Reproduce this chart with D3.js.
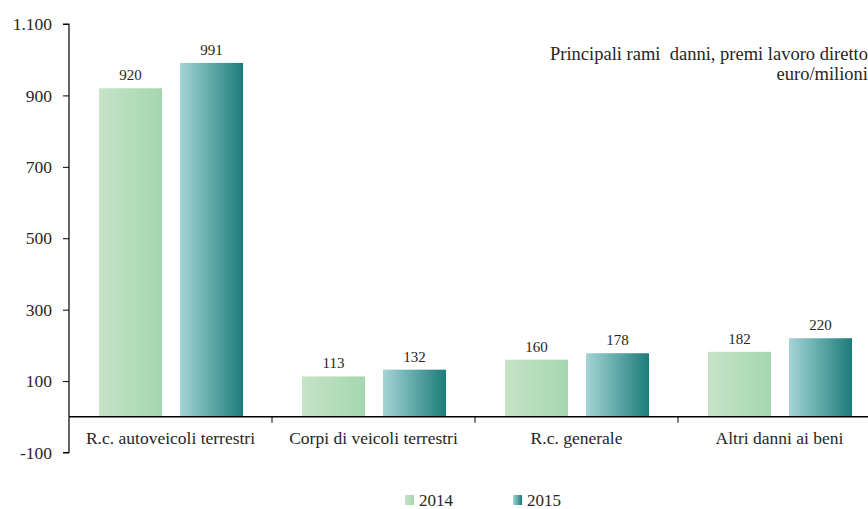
<!DOCTYPE html>
<html><head><meta charset="utf-8">
<script src="https://cdn.jsdelivr.net/npm/d3@7"></script>
<style>body{margin:0;background:#fff}svg{display:block}</style>
</head><body><svg id="c" width="868" height="509"></svg>
<script>
const categories = ["R.c. autoveicoli terrestri","Corpi di veicoli terrestri","R.c. generale","Altri danni ai beni"];
const series = ["2014","2015"];
const values2014 = [920,113,160,182];
const values2015 = [991,132,178,220];
const yTicks = [-100,100,300,500,700,900,1100];
const yTickLabels = ["-100","100","300","500","700","900","1.100"];
const titleLines = ["Principali rami  danni, premi lavoro diretto","euro/milioni"];

const FONT = '"Liberation Serif"';
const TXT = "#262626";
const svg = d3.select("#c");
const defs = svg.append("defs");
const grads = [["g2014","#c6e4c6","#a5d6af"],["g2015","#a5d4d7","#1b7c79"]];
grads.forEach(([id,a,b])=>{
  const g = defs.append("linearGradient").attr("id",id).attr("x1","0").attr("x2","1").attr("y1","0").attr("y2","0");
  g.append("stop").attr("offset","0").attr("stop-color",a);
  g.append("stop").attr("offset","1").attr("stop-color",b);
});

const x0 = 69, x1 = 881;
const y = d3.scaleLinear().domain([-100,1100]).range([452.5,24]);
const x = d3.scaleBand().domain(categories).range([x0,x1]).paddingInner(0).paddingOuter(0);
const xs = d3.scaleBand().domain(series).range([30,174]).paddingInner(0.222).paddingOuter(0);

// y axis
const yAxis = d3.axisLeft(y).tickValues(yTicks).tickFormat((d,i)=>yTickLabels[i]).tickSize(6).tickPadding(11);
const ga = svg.append("g").attr("transform",`translate(${x0},0)`).call(yAxis);
ga.attr("font-family",null).attr("font-size",null);
ga.select(".domain").attr("stroke","#000").attr("stroke-width",1.2).attr("d",`M-6,${y(1100)}H0V${y(-100)}H-6`);
ga.selectAll(".tick line").attr("stroke","#000");
ga.selectAll(".tick text").style("font-family",FONT).style("font-size","17.5px").attr("fill",TXT);

// bars
const data = [values2014, values2015];
categories.forEach((c,i)=>{
  series.forEach((s,j)=>{
    const v = data[j][i];
    svg.append("rect").attr("x",x(c)+xs(s)).attr("y",y(v)).attr("width",xs.bandwidth()).attr("height",y(0)-y(v))
      .attr("fill",`url(#g${s})`);
    svg.append("text").attr("x",x(c)+xs(s)+xs.bandwidth()/2).attr("y",y(v)-8).attr("text-anchor","middle")
      .style("font-family",FONT).attr("fill",TXT).style("font-size","15px").text(v);
  });
});

// x axis
const xAxis = d3.axisBottom(x).tickSize(0).tickPadding(0).tickFormat("");
const gx = svg.append("g").attr("transform",`translate(0,${y(0)})`).call(xAxis);
gx.attr("font-family",null).attr("font-size",null);
gx.select(".domain").attr("stroke","#000").attr("stroke-width",1.5).attr("d",`M${x0},0H${x1}`);
categories.forEach((c,i)=>{
  if(i>0) svg.append("line").attr("x1",x(c)).attr("x2",x(c)).attr("y1",y(0)).attr("y2",y(0)+6).attr("stroke","#000");
  svg.append("text").attr("x",x(c)+x.bandwidth()/2).attr("y",y(0)+27).attr("text-anchor","middle")
    .style("font-family",FONT).attr("fill",TXT).style("font-size","17.5px").text(c);
});

// title
titleLines.forEach((t,i)=>{
  svg.append("text").attr("x",868).attr("y",60+i*20).attr("text-anchor","end").style("font-family",FONT).attr("fill",TXT)
    .style("font-size","18.5px").style("white-space","pre").attr("xml:space","preserve").text(t);
});

// legend
const legX = [405,513];
series.forEach((s,j)=>{
  svg.append("rect").attr("x",legX[j]).attr("y",495).attr("width",9).attr("height",10).attr("fill",`url(#g${s})`);
  svg.append("text").attr("x",legX[j]+14).attr("y",505.5).style("font-family",FONT).attr("fill",TXT).style("font-size","17px").text(s);
});
</script></body></html>
